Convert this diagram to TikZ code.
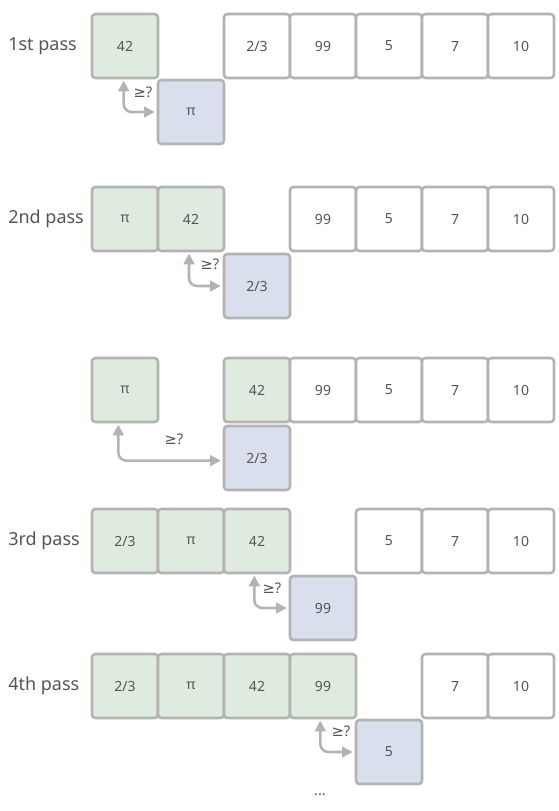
\documentclass[tikz,border=0pt]{standalone}
\usepackage{fontspec}
\setmainfont{Noto Sans}
\newfontfamily\symfont{DejaVu Sans}
\usetikzlibrary{arrows.meta}
\definecolor{bord}{HTML}{B3B3B3}
\definecolor{gfill}{HTML}{DFEBDF}
\definecolor{bfill}{HTML}{D9DFEC}
\definecolor{txt}{HTML}{555555}
\newcommand{\geqq}{{\symfont ≥}?}
\begin{document}
\begin{tikzpicture}[x=0.75pt,y=-0.75pt,
  cell/.style={draw=bord, line width=1.9pt, rounded corners=2.5pt,
    minimum width=49.5pt, minimum height=48pt, inner sep=0pt,
    font=\fontsize{10.5}{12}\selectfont, text=txt},
  done/.style={cell, fill=gfill},
  cmp/.style={cell, fill=bfill},
  plain/.style={cell, fill=white},
  passlbl/.style={anchor=west, inner sep=0pt, font=\fontsize{13.5}{15}\selectfont, text=txt},
  qlbl/.style={inner sep=0pt, font=\fontsize{11}{13}\selectfont, text=txt},
  arr/.style={{Triangle[length=8pt,width=8pt]}-{Triangle[length=8pt,width=8pt]},
    draw=bord, line width=1.9pt, rounded corners=6pt, shorten <=1pt, shorten >=1.5pt}]
\useasboundingbox (0,0) rectangle (558,811);

% row 1
\node[passlbl] (p1) at (8,46) {1st pass};
\node[done]  (a1) at (125,46) {42};
\node[plain] (a3) at (257,46) {2/3};
\node[plain] (a4) at (323,46) {99};
\node[plain] (a5) at (389,46) {5};
\node[plain] (a6) at (455,46) {7};
\node[plain] (a7) at (521,46) {10};
\node[cmp]   (ab) at (191,112) {π};
\draw[arr] ([xshift=-1pt]a1.south) |- (ab.west);
\node[qlbl] (aq) at (143,92) {\geqq};

% row 2
\node[passlbl] (p2) at (8,219) {2nd pass};
\node[done]  (b1) at (125,219) {π};
\node[done]  (b2) at (191,219) {42};
\node[plain] (b4) at (323,219) {99};
\node[plain] (b5) at (389,219) {5};
\node[plain] (b6) at (455,219) {7};
\node[plain] (b7) at (521,219) {10};
\node[cmp]   (bb) at (257,286) {2/3};
\draw[arr] ([xshift=-1.5pt]b2.south) |- (bb.west);
\node[qlbl] (bq) at (210,264) {\geqq};

% row 3
\node[done]  (c1) at (125,390) {π};
\node[done]  (c3) at (257,390) {42};
\node[plain] (c4) at (323,390) {99};
\node[plain] (c5) at (389,390) {5};
\node[plain] (c6) at (455,390) {7};
\node[plain] (c7) at (521,390) {10};
\node[cmp]   (cb) at (257,458) {2/3};
\draw[arr] ([xshift=-5pt]c1.south) |- ([yshift=-2pt]cb.west);
\node[qlbl] (cq) at (174,439) {\geqq};

% row 4
\node[passlbl] (p4) at (8,541) {3rd pass};
\node[done]  (d1) at (125,541) {2/3};
\node[done]  (d2) at (191,541) {π};
\node[done]  (d3) at (257,541) {42};
\node[plain] (d5) at (389,541) {5};
\node[plain] (d6) at (455,541) {7};
\node[plain] (d7) at (521,541) {10};
\node[cmp]   (db) at (323,608) {99};
\draw[arr] ([xshift=-2pt]d3.south) |- (db.west);
\node[qlbl] (dq) at (272,588) {\geqq};

% row 5
\node[passlbl] (p5) at (8,686) {4th pass};
\node[done]  (e1) at (125,686) {2/3};
\node[done]  (e2) at (191,686) {π};
\node[done]  (e3) at (257,686) {42};
\node[done]  (e4) at (323,686) {99};
\node[plain] (e6) at (455,686) {7};
\node[plain] (e7) at (521,686) {10};
\node[cmp]   (eb) at (389,752) {5};
\draw[arr] ([xshift=-2pt]e4.south) |- (eb.west);
\node[qlbl] (eq) at (341,731) {\geqq};

\node[qlbl] (dots) at (320,795) {...};
\end{tikzpicture}
\end{document}
